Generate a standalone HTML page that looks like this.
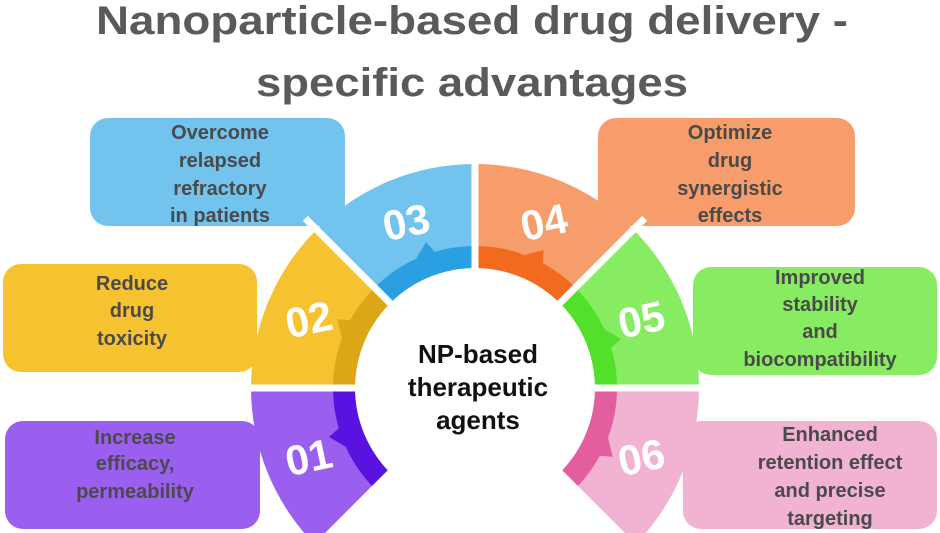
<!DOCTYPE html>
<html><head><meta charset="utf-8"><style>
html,body{margin:0;padding:0;background:#fff;width:940px;height:533px;overflow:hidden}
svg{display:block}
.t{font-family:"Liberation Sans",sans-serif;font-weight:bold;fill:#4a4a4a;font-size:20px;text-anchor:middle}
.n{font-family:"Liberation Sans",sans-serif;font-weight:bold;fill:#fff;font-size:42px;text-anchor:middle}
</style></head><body>
<svg width="940" height="533" viewBox="0 0 940 533" xmlns="http://www.w3.org/2000/svg">
<text x="472" y="34" font-family="Liberation Sans,sans-serif" font-weight="bold" font-size="40" fill="#5a5a5a" text-anchor="middle" textLength="752" lengthAdjust="spacingAndGlyphs">Nanoparticle-based drug delivery -</text>
<text x="472" y="96" font-family="Liberation Sans,sans-serif" font-weight="bold" font-size="40" fill="#5a5a5a" text-anchor="middle" textLength="432" lengthAdjust="spacingAndGlyphs">specific advantages</text>

<rect x="90" y="118" width="255" height="108" rx="18" fill="#72c4ef"/>
<rect x="3" y="264" width="254" height="108" rx="18" fill="#f7c22f"/>
<rect x="5" y="421" width="255" height="108" rx="18" fill="#9b5ff0"/>
<rect x="598" y="118" width="257" height="108" rx="18" fill="#f79d6c"/>
<rect x="693" y="267" width="244" height="108" rx="18" fill="#88ec62"/>
<rect x="683" y="421" width="254" height="108" rx="18" fill="#f2b2d2"/>

<g id="segs"></g>
<circle cx="475" cy="388" r="118" fill="#fff"/>

<text class="t" x="220" y="139">Overcome</text>
<text class="t" x="220" y="167">relapsed</text>
<text class="t" x="220" y="195">refractory</text>
<text class="t" x="220" y="222">in patients</text>
<text class="t" x="132" y="290">Reduce</text>
<text class="t" x="132" y="317">drug</text>
<text class="t" x="132" y="345">toxicity</text>
<text class="t" x="135" y="444">Increase</text>
<text class="t" x="135" y="470">efficacy,</text>
<text class="t" x="135" y="498">permeability</text>
<text class="t" x="730" y="139">Optimize</text>
<text class="t" x="730" y="167">drug</text>
<text class="t" x="730" y="195">synergistic</text>
<text class="t" x="730" y="222">effects</text>
<text class="t" x="820" y="284">Improved</text>
<text class="t" x="820" y="311">stability</text>
<text class="t" x="820" y="338">and</text>
<text class="t" x="820" y="366">biocompatibility</text>
<text class="t" x="830" y="441">Enhanced</text>
<text class="t" x="830" y="469">retention effect</text>
<text class="t" x="830" y="497">and precise</text>
<text class="t" x="830" y="525">targeting</text>

<text x="478" y="363" font-family="Liberation Sans,sans-serif" font-weight="bold" font-size="26" fill="#111" text-anchor="middle">NP-based</text>
<text x="478" y="396" font-family="Liberation Sans,sans-serif" font-weight="bold" font-size="26" fill="#111" text-anchor="middle">therapeutic</text>
<text x="478" y="429" font-family="Liberation Sans,sans-serif" font-weight="bold" font-size="26" fill="#111" text-anchor="middle">agents</text>
</svg>
<script>
(function(){
var cx=475,cy=388,R=224,b1=120,b2=142;
var segs=[
 {a0:180,a1:225,c:"#9b5ff0",d:"#5a12e0",n:"01"},
 {a0:135,a1:180,c:"#f7c22f",d:"#dca616",n:"02"},
 {a0:90,a1:135,c:"#72c4ef",d:"#2aa0e2",n:"03"},
 {a0:45,a1:90,c:"#f79d6c",d:"#f26a1e",n:"04"},
 {a0:0,a1:45,c:"#88ec62",d:"#52e02a",n:"05"},
 {a0:-45,a1:0,c:"#f2b2d2",d:"#e25e9e",n:"06"}];
function P(r,a){a=a*Math.PI/180;return [cx+r*Math.cos(a),cy-r*Math.sin(a)];}
function arc(r1,r2,a0,a1){var p1=P(r2,a0),p2=P(r2,a1),p3=P(r1,a1),p4=P(r1,a0);
 return "M"+p1+" A"+r2+","+r2+" 0 0 0 "+p2+" L"+p3+" A"+r1+","+r1+" 0 0 1 "+p4+"Z";}
var h="";
segs.forEach(function(s){
 h+='<path d="'+arc(b1,R,s.a0,s.a1)+'" fill="'+s.c+'"/>';
 h+='<path d="'+arc(b1,b2,s.a0,s.a1)+'" fill="'+s.d+'"/>';
 var m=(s.a0+s.a1)/2, t1=P(b2,m-6),t2=P(b2,m+2),t3=P(b2+12,m-4);
 h+='<path d="M'+t1+' L'+t3+' L'+t2+'Z" fill="'+s.d+'"/>';
 var q=P(180,m);
 h+='<text class="n" x="'+q[0]+'" y="'+(q[1]+15)+'" transform="rotate(-12 '+q[0]+' '+q[1]+')">'+s.n+'</text>';
});
[-45,0,45,90,135,180,225].forEach(function(a){var p1=P(100,a),p2=P(240,a);
 h+='<line x1="'+p1[0]+'" y1="'+p1[1]+'" x2="'+p2[0]+'" y2="'+p2[1]+'" stroke="#fff" stroke-width="7"/>';});
document.getElementById("segs").innerHTML=h;
})();
</script>
</body></html>
